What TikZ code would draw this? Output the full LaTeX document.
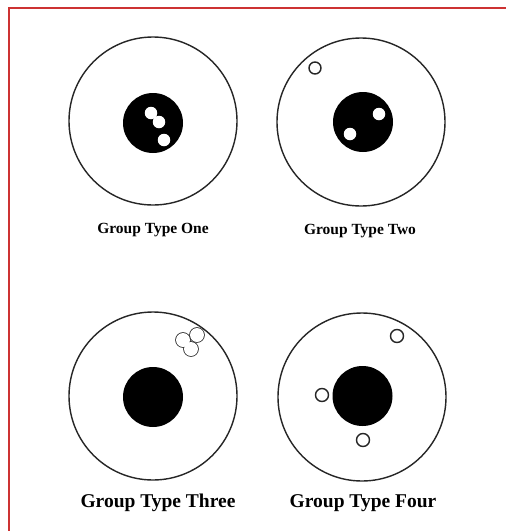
\documentclass[tikz,border=0pt]{standalone}
\usepackage{fontspec}
\setmainfont{Liberation Serif}
\definecolor{frame}{RGB}{205,50,50}
\begin{document}
\begin{tikzpicture}[x=1pt,y=-1pt,
  outer/.style={circle,draw=black!85,line width=1.4pt,inner sep=0pt,minimum size=168pt},
  core/.style={circle,fill=black,inner sep=0pt,minimum size=60pt},
  hole/.style={circle,fill=white,inner sep=0pt,minimum size=12.5pt},
  ring/.style={circle,draw=black!85,fill=white,line width=1.4pt,inner sep=0pt,minimum size=13pt},
  toplabel/.style={font=\bfseries\fontsize{15.5}{18}\selectfont,anchor=base,inner sep=0pt},
  botlabel/.style={font=\bfseries\fontsize{19.5}{22}\selectfont,anchor=base,inner sep=0pt}]
\useasboundingbox (0,0) rectangle (506,531);
\fill[white] (0,0) rectangle (506,531);
\draw[frame,line width=2pt] (506,7.5) -- (9,7.5) -- (9,531);
% Group one
\node[outer] (o1) at (153,121) {};
\node[core] (k1) at (153,123) {};
\node[hole] (h1a) at (151,113) {};
\node[hole] (h1b) at (159,122) {};
\node[hole] (h1c) at (164,140) {};
\node[toplabel] (l1) at (153,233) {Group Type One};
% Group two
\node[outer] (o2) at (361,122) {};
\node[core] (k2) at (363,122) {};
\node[hole] (h2a) at (379,114) {};
\node[hole] (h2b) at (350,134) {};
\node[ring,minimum size=12pt] (r2) at (315,68) {};
\node[toplabel] (l2) at (360,234) {Group Type Two};
% Group three
\node[outer] (o3) at (153,396) {};
\node[core] (k3) at (153,397) {};
\foreach \n/\p in {a/{(183,340)},b/{(197,335)},c/{(191,349)}}
  \node[circle,draw=black!85,line width=1.6pt,inner sep=0pt,minimum size=14pt] (t\n) at \p {};
\foreach \n/\p in {a/{(183,340)},b/{(197,335)},c/{(191,349)}}
  \fill[white] \p circle (7pt);
\node[botlabel] (l3) at (158,507) {Group Type Three};
% Group four
\node[outer] (o4) at (362,397) {};
\node[core] (k4) at (362.5,396) {};
\node[ring] (r4a) at (397,336) {};
\node[ring] (r4b) at (322,395) {};
\node[ring] (r4c) at (363,440) {};
\node[botlabel] (l4) at (363,507) {Group Type Four};
\end{tikzpicture}
\end{document}
